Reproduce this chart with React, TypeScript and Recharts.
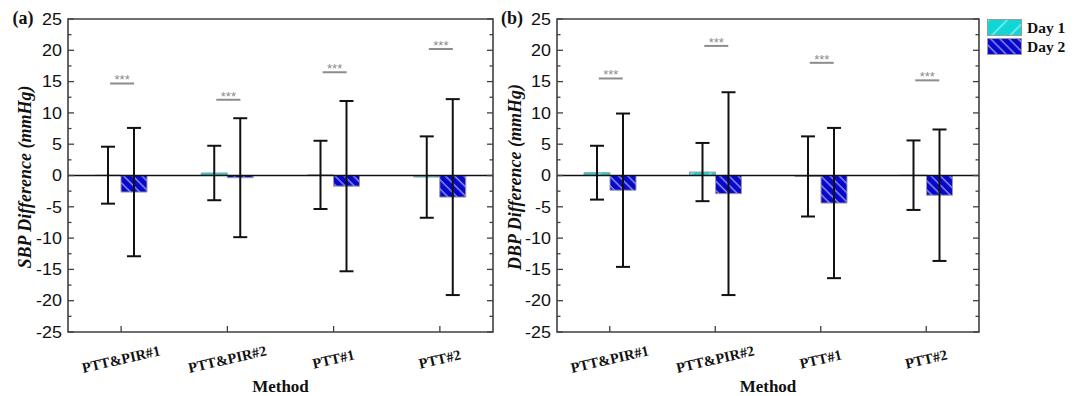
import React from 'react';
import {
  ComposedChart, Bar, ErrorBar, XAxis, YAxis, ReferenceLine, ReferenceArea, Scatter,
} from 'recharts';

const methods = ['PTT&PIR#1', 'PTT&PIR#2', 'PTT#1', 'PTT#2'];

// SBP difference (mean and SD) per day
const sbpDay1 = [0.05, 0.4, 0.1, -0.25];
const sbpDay1Err = [4.55, 4.35, 5.45, 6.5];
const sbpDay2 = [-2.65, -0.35, -1.7, -3.45];
const sbpDay2Err = [10.25, 9.5, 13.6, 15.65];
const sbpSig = [14.7, 12.1, 16.5, 20.2];

// DBP difference
const dbpDay1 = [0.45, 0.55, -0.15, 0.05];
const dbpDay1Err = [4.3, 4.65, 6.4, 5.55];
const dbpDay2 = [-2.35, -2.9, -4.4, -3.15];
const dbpDay2Err = [12.25, 16.2, 12.0, 10.5];
const dbpSig = [15.5, 20.7, 18.0, 15.2];

const yTicks = [-25, -22.5, -20, -17.5, -15, -12.5, -10, -7.5, -5, -2.5, 0, 2.5, 5, 7.5, 10, 12.5, 15, 17.5, 20, 22.5, 25];
const yLabels = ['-25', '-20', '-15', '-10', '-5', '0', '5', '10', '15', '20', '25'];
const seriesNames = ['Day 1', 'Day 2'];

const H = 396;
const TOP = 19;
const BOTTOM = 64;
const serif = '"Liberation Serif", "Times New Roman", serif';
const sans = '"Liberation Sans", Arial, sans-serif';

const buildRows = (d1: number[], e1: number[], d2: number[], e2: number[], sig: number[]) =>
  methods.map((name, i) => ({ name, d1: d1[i], e1: e1[i], d2: d2[i], e2: e2[i], sig: sig[i] }));

const Patterns = ({ id }: { id: string }) => (
  <defs>
    <pattern id={`${id}-p1`} width="13" height="13" patternUnits="userSpaceOnUse" patternTransform="rotate(45)">
      <rect width="13" height="13" fill="#12d6d6" />
      <line x1="2" y1="0" x2="2" y2="13" stroke="#b8ffff" strokeWidth="1" />
    </pattern>
    <pattern id={`${id}-p2`} width="6.5" height="6.5" patternUnits="userSpaceOnUse" patternTransform="rotate(-45)">
      <rect width="6.5" height="6.5" fill="#0808cc" />
      <line x1="2" y1="0" x2="2" y2="6.5" stroke="#c8c8ff" strokeWidth="1" />
    </pattern>
  </defs>
);

const SigMark = (props: any) => {
  const { cx, cy } = props;
  if (cx == null || cy == null) return null;
  return (
    <g>
      <line x1={cx - 11} x2={cx + 13} y1={cy} y2={cy} stroke="#8c8c8c" strokeWidth={2} />
      <text x={cx + 1} y={cy + 1} textAnchor="middle" fontFamily={sans} fontSize={13} fill="#8c8c8c">***</text>
    </g>
  );
};

type PanelProps = {
  id: string;
  left: number;
  width: number;
  plotLeft: number;
  plotRight: number;
  tag: string;
  tagX: number;
  yLabel: string;
  yLabelX: number;
  rows: any[];
};

const Panel = ({ id, left, width, plotLeft, plotRight, tag, tagX, yLabel, yLabelX, rows }: PanelProps) => {
  const plotW = plotRight - plotLeft;
  const plotCx = plotLeft + plotW / 2;

  const YTick = (p: any) => {
    const v = p.payload.value;
    const major = yLabels.includes(String(v));
    const len = major ? 6 : 3.5;
    return (
      <g>
        <line x1={p.x} x2={p.x + len} y1={p.y} y2={p.y} stroke="#404040" strokeWidth={1.3} />
        <line x1={p.x + plotW} x2={p.x + plotW - len} y1={p.y} y2={p.y} stroke="#404040" strokeWidth={1.3} />
        {major && (
          <text
            x={0}
            y={0}
            dy="0.36em"
            textAnchor="end"
            fontFamily={sans}
            fontSize={16}
            fill="#111"
            transform={`translate(${p.x - 6} ${p.y}) scale(1.12 1)`}
          >
            {String(v)}
          </text>
        )}
      </g>
    );
  };

  const XTick = (p: any) => (
    <g>
      <line x1={p.x} x2={p.x} y1={p.y} y2={p.y - 6} stroke="#404040" strokeWidth={1.3} />
      <text
        x={p.x + 1}
        y={p.y + 32}
        textAnchor="middle"
        fontFamily={serif}
        fontWeight="bold"
        fontSize={14.5}
        fill="#111"
        transform={`rotate(-13 ${p.x + 1} ${p.y + 32})`}
      >
        {p.payload.value}
      </text>
    </g>
  );

  const Titles = () => (
    <g>
      <text x={tagX} y={24} textAnchor="middle" fontFamily={serif} fontWeight="bold" fontSize={18} fill="#111">{tag}</text>
      <text
        x={yLabelX}
        y={177}
        textAnchor="middle"
        dy="0.35em"
        fontFamily={serif}
        fontWeight="bold"
        fontStyle="italic"
        fontSize={18}
        fill="#111"
        transform={`rotate(-90 ${yLabelX} 177)`}
      >
        {yLabel}
      </text>
      <text x={plotCx} y={392} textAnchor="middle" fontFamily={serif} fontWeight="bold" fontSize={17} fill="#111">Method</text>
    </g>
  );

  return (
    <div style={{ position: 'absolute', left, top: 0 }}>
      <ComposedChart
        width={width}
        height={H}
        data={rows}
        margin={{ top: TOP, right: width - plotRight, bottom: BOTTOM - 1, left: plotLeft - 1 }}
        barSize={26}
        barGap={0}
      >
        <Patterns id={id} />
        <XAxis
          dataKey="name"
          type="category"
          height={1}
          interval={0}
          tickSize={0}
          tickMargin={0}
          axisLine={false}
          tick={XTick}
          label={(props: any) => <Titles />}
        />
        <YAxis
          type="number"
          width={1}
          domain={[-25, 25]}
          ticks={yTicks}
          interval={0}
          tickSize={0}
          tickMargin={0}
          axisLine={false}
          allowDataOverflow
          tick={YTick}
        />
        <ReferenceArea y1={-25} y2={25} fill="none" stroke="#404040" strokeWidth={1.6} />
        <Bar dataKey="d1" name={seriesNames[0]} fill={`url(#${id}-p1)`} stroke="#9a9a9a" strokeWidth={1} isAnimationActive={false}>
          <ErrorBar dataKey="e1" width={7} stroke="#111" strokeWidth={2} direction="y" isAnimationActive={false} />
        </Bar>
        <Bar dataKey="d2" name={seriesNames[1]} fill={`url(#${id}-p2)`} stroke="#9a9a9a" strokeWidth={1} isAnimationActive={false}>
          <ErrorBar dataKey="e2" width={7} stroke="#111" strokeWidth={2} direction="y" isAnimationActive={false} />
        </Bar>
        <ReferenceLine y={0} stroke="#111" strokeWidth={1.5} />
        <Scatter dataKey="sig" shape={SigMark} isAnimationActive={false} />
      </ComposedChart>
    </div>
  );
};

const LegendBox = () => (
  <div style={{ position: 'absolute', left: 987, top: 18 }}>
    {seriesNames.map((n, i) => (
      <div key={n} style={{ display: 'flex', alignItems: 'center', height: 19 }}>
        <svg width={35} height={17} style={{ display: 'block' }}>
          <Patterns id={`lg${i}`} />
          <rect x={0.5} y={0.5} width={34} height={16} fill={`url(#lg${i}-p${i + 1})`} stroke="#9a9a9a" strokeWidth={1} />
        </svg>
        <span style={{ marginLeft: 5, fontFamily: serif, fontWeight: 'bold', fontSize: 15.5, color: '#111' }}>{n}</span>
      </div>
    ))}
  </div>
);

export default function App() {
  const sbpRows = buildRows(sbpDay1, sbpDay1Err, sbpDay2, sbpDay2Err, sbpSig);
  const dbpRows = buildRows(dbpDay1, dbpDay1Err, dbpDay2, dbpDay2Err, dbpSig);
  return (
    <div style={{ position: 'absolute', left: 0, top: 0, width: 1075, height: H, background: '#fff', overflow: 'hidden' }}>
      <Panel id="sbp" left={0} width={500} plotLeft={68} plotRight={493} tag="(a)" tagX={23} yLabel="SBP Difference (mmHg)" yLabelX={25} rows={sbpRows} />
      <Panel id="dbp" left={495} width={490} plotLeft={62} plotRight={484} tag="(b)" tagX={17} yLabel="DBP Difference (mmHg)" yLabelX={20} rows={dbpRows} />
      <LegendBox />
    </div>
  );
}
